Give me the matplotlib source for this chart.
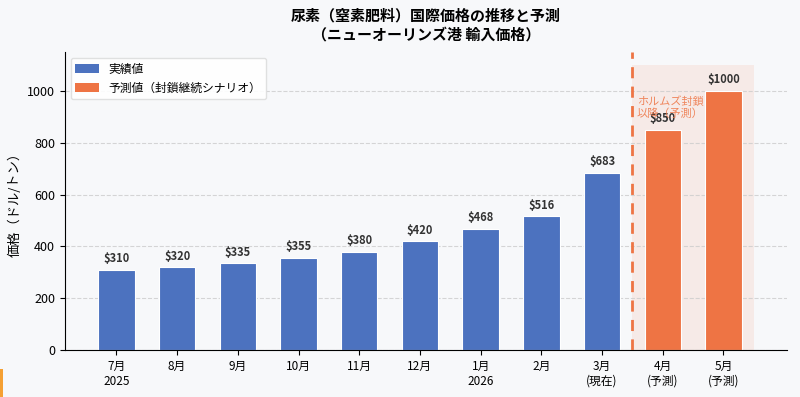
import matplotlib
matplotlib.use("Agg")
import matplotlib.pyplot as plt
from matplotlib.patches import Patch, Rectangle
import numpy as np

plt.rcParams['font.family'] = ['Noto Sans CJK JP', 'DejaVu Sans']

categories = ["7月\n2025", "8月", "9月", "10月", "11月", "12月", "1月\n2026", "2月", "3月\n(現在)", "4月\n(予測)", "5月\n(予測)"]
values = [310, 320, 335, 355, 380, 420, 468, 516, 683, 850, 1000]
is_forecast = [False] * 9 + [True] * 2
value_labels = ["$310", "$320", "$335", "$355", "$380", "$420", "$468", "$516", "$683", "$850", "$1000"]

blue = "#4C72BF"
orange = "#EE7444"
bg = "#F7F8FA"

fig = plt.figure(figsize=(8, 3.97), dpi=100, facecolor=bg)
ax = fig.add_axes([0.081, 0.118, 0.903, 0.751], facecolor=bg)

x = np.arange(len(categories))
colors = [orange if f else blue for f in is_forecast]

ax.add_patch(Rectangle((8.5, 0), 2.0, 1100, facecolor=orange, alpha=0.1, edgecolor='none', zorder=0))
ax.bar(x, values, width=0.6, color=colors, edgecolor='white', linewidth=0.8, zorder=2)
ax.axvline(8.5, color=orange, linestyle=(0, (4, 3)), linewidth=2, zorder=3)

for xi, v, lab in zip(x, values, value_labels):
    ax.text(xi, v + 18, lab, ha='center', va='bottom', fontsize=8, fontweight='bold', color='#333333', zorder=4)

ax.text(8.57, 980, "ホルムズ封鎖\n以降（予測）", color=orange, fontsize=8, ha='left', va='top', alpha=0.85, zorder=4, linespacing=1.15)

ax.set_xlim(-0.85, 11.05)
ax.set_ylim(0, 1150)
ax.set_yticks([0, 200, 400, 600, 800, 1000])
ax.set_xticks(x)
ax.set_xticklabels(categories, fontsize=8.5)
ax.tick_params(axis='y', labelsize=9)
ax.yaxis.grid(True, linestyle='--', color='#cccccc', linewidth=0.8, alpha=0.8)
ax.set_axisbelow(True)
for s in ['top', 'right']:
    ax.spines[s].set_visible(False)
ax.set_ylabel("価格（ドル/トン）", fontsize=9.5)

ax.set_title("尿素（窒素肥料）国際価格の推移と予測\n（ニューオーリンズ港 輸入価格）", fontsize=10.8, fontweight='bold', pad=9, linespacing=1.25)

handles = [Patch(facecolor=blue, label="実績値"), Patch(facecolor=orange, label="予測値（封鎖継続シナリオ）")]
ax.legend(handles=handles, loc='upper left', fontsize=8.5, frameon=True, facecolor='white', edgecolor='#dddddd', framealpha=0.9)

fig.add_artist(Rectangle((0, 0), 0.004, 0.07, transform=fig.transFigure, facecolor='#F5A033', edgecolor='none'))

fig.savefig("out.png", dpi=100, facecolor=bg)
